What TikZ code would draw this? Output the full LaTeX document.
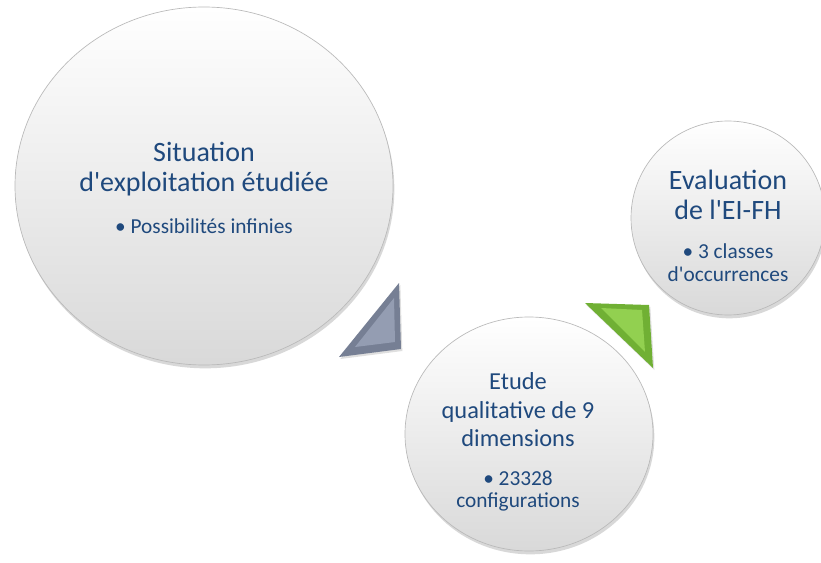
\documentclass[tikz,border=0pt]{standalone}
\usepackage{fontspec}
\setmainfont{Carlito}
\usetikzlibrary{shadows,positioning,shapes.geometric}
\definecolor{txtblue}{RGB}{31,73,125}
\definecolor{grayout}{RGB}{118,127,148}
\definecolor{grayin}{RGB}{148,157,178}
\definecolor{greenout}{RGB}{112,176,52}
\definecolor{greenin}{RGB}{146,208,80}
\newcommand{\q}{\textquotesingle}
\tikzset{
  bubble/.style={ellipse,draw=gray!55,line width=0.5pt,top color=white,middle color=gray!3,bottom color=gray!30,
    drop shadow={opacity=0.3,shadow xshift=1pt,shadow yshift=-2.5pt}},
  title/.style={text=txtblue,align=center},
  item/.style={text=txtblue,align=center,font=\fontsize{16}{17}\selectfont},
}
\begin{document}
\begin{tikzpicture}[x=0.75pt,y=-0.75pt]
    \useasboundingbox[fill=white] (0,0) rectangle (821,563);
    % first
        \node[bubble,minimum width=283.5pt,minimum height=268.5pt] (situation) at (204,186) {};
        \node[title,font=\fontsize{21}{22.5}\selectfont] (situationtitle) at (204,169) {Situation\\d\q exploitation étudiée};
        \node[item,below=10pt of situationtitle] (situationitem) {• Possibilités infinies};
    % second
        \node[bubble,minimum width=186pt,minimum height=175.5pt] (etude) at (529,434) {};
        \node[title,font=\fontsize{18.3}{21.4}\selectfont] (etudetitle) at (518,410) {Etude\\qualitative de 9\\dimensions};
        \node[item,font=\fontsize{16}{16.5}\selectfont,below=11pt of etudetitle] (etudeitem) {• 23328\\configurations};
    % third
        \node[bubble,minimum size=145.5pt] (evaluation) at (728,218) {};
        \node[title,font=\fontsize{21}{23}\selectfont] (evaluationtitle) at (728,195) {Evaluation\\de l\q EI-FH};
        \node[item,below=10.5pt of evaluationtitle] (evaluationitem) {• 3 classes\\d\q occurrences};
    % gray arrow
        \fill[grayout,drop shadow={opacity=0.25,shadow xshift=1pt,shadow yshift=-1.5pt}]
            (399,283)--(339,357)--(401,349)--cycle;
        \fill[grayin](394,298)--(355,347)--(395,342)--cycle;
    % green arrow
        \fill[greenout,drop shadow={opacity=0.25,shadow xshift=1pt,shadow yshift=-1.5pt}]
            (585,303)--(649,305)--(653,368)--cycle;
        \fill[greenin](601,308)--(642,310)--(645,352)--cycle;
\end{tikzpicture}
\end{document}
